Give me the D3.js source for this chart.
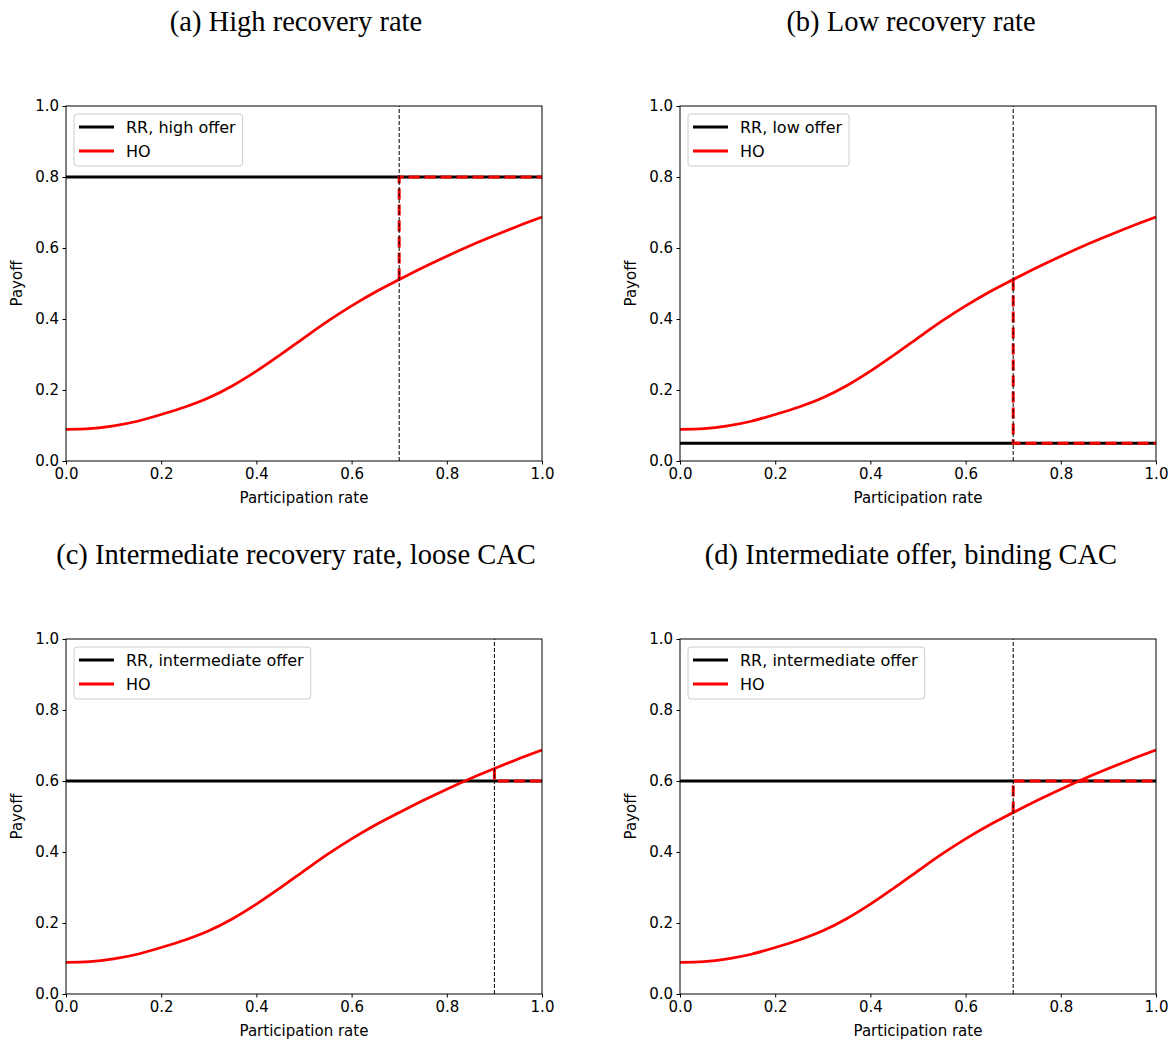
<!DOCTYPE html>
<html>
<head>
    <title>Payoff vs participation rate</title>
    <script src="https://d3js.org/d3.v7.min.js"></script>
    <style>
        body { margin: 0; background: #fff; }
        svg { display: block; }
        .tick text { font-family: "DejaVu Sans", sans-serif; font-size: 15px; fill: #000; }
        .tick line { stroke: #000; }
        .axis-label { font-family: "DejaVu Sans", sans-serif; font-size: 15px; }
        .panel-title { font-family: "Liberation Serif", "DejaVu Serif", serif; font-size: 28.5px; }
        .legend text { font-family: "DejaVu Sans", sans-serif; font-size: 16px; }
        .ho { fill: none; stroke: #ff0000; stroke-width: 2.8; }
        .ho-path { fill: none; stroke: #ff0000; stroke-width: 3; stroke-dasharray: 11,5; }
        .rr { fill: none; stroke: #000; stroke-width: 3; }
        .cutoff { fill: none; stroke: #000; stroke-width: 1; stroke-dasharray: 4,2; }
    </style>
</head>
<body>
    <svg width="1172" height="1041"></svg>
    <script>
        // participation rate grid and HO payoff
        var participation = [0, 0.05, 0.1, 0.15, 0.2, 0.25, 0.3, 0.35, 0.4, 0.45, 0.5,
                             0.55, 0.6, 0.65, 0.7, 0.75, 0.8, 0.85, 0.9, 0.95, 1.0];
        var hoPayoff = [0.089, 0.091, 0.099, 0.112, 0.131, 0.152, 0.178, 0.212, 0.253, 0.299, 0.347,
                        0.394, 0.437, 0.476, 0.511, 0.545, 0.577, 0.607, 0.635, 0.662, 0.687];

        // one entry per panel
        var titles = ["(a) High recovery rate", "(b) Low recovery rate",
                      "(c) Intermediate recovery rate, loose CAC", "(d) Intermediate offer, binding CAC"];
        var rrLabels = ["RR, high offer", "RR, low offer", "RR, intermediate offer", "RR, intermediate offer"];
        var rrValues = [0.8, 0.05, 0.6, 0.6];
        var cutoffs = [0.7, 0.7, 0.9, 0.7];

        var xTicks = [0, 0.2, 0.4, 0.6, 0.8, 1.0];
        var yTicks = [0, 0.2, 0.4, 0.6, 0.8, 1.0];

        var svg = d3.select("svg");
        var width = 476, height = 355;
        var origins = [[66, 106], [680, 106], [66, 639], [680, 639]];
        var titleCenters = [296, 911, 296, 911];
        var titleY = [31, 31, 564, 564];

        var x = d3.scaleLinear().domain([0, 1]).range([0, width]);
        var y = d3.scaleLinear().domain([0, 1]).range([height, 0]);

        var hoData = participation.map(function(p, i) { return [p, hoPayoff[i]]; });
        var line = d3.line()
            .x(function(d) { return x(d[0]); })
            .y(function(d) { return y(d[1]); });

        function hoAt(p) {
            return hoPayoff[participation.indexOf(p)];
        }

        titles.forEach(function(title, k) {
            // subfigure caption
            svg.append("text")
                .attr("class", "panel-title")
                .attr("x", titleCenters[k])
                .attr("y", titleY[k])
                .attr("text-anchor", "middle")
                .text(title);

            var g = svg.append("g")
                .attr("transform", "translate(" + origins[k][0] + "," + origins[k][1] + ")");

            var clip = g.append("clipPath").attr("id", "clip" + k);
            clip.append("rect").attr("width", width).attr("height", height);
            var plot = g.append("g").attr("clip-path", "url(#clip" + k + ")");

            // RR line
            plot.append("path")
                .datum([[0, rrValues[k]], [1, rrValues[k]]])
                .attr("class", "rr")
                .attr("d", line.curve(d3.curveLinear));

            // HO line
            plot.append("path")
                .datum(hoData)
                .attr("class", "ho")
                .attr("d", line.curve(d3.curveCatmullRom.alpha(0.5)));

            // payoff actually obtained past the cutoff
            var c = cutoffs[k];
            plot.append("path")
                .datum([[c, hoAt(c)], [c, rrValues[k]], [1, rrValues[k]]])
                .attr("class", "ho-path")
                .attr("d", line.curve(d3.curveLinear));

            // cutoff
            plot.append("path")
                .datum([[c, 0], [c, 1]])
                .attr("class", "cutoff")
                .attr("d", line.curve(d3.curveLinear));

            // axes
            g.append("g")
                .attr("transform", "translate(0," + height + ")")
                .call(d3.axisBottom(x).tickValues(xTicks).tickFormat(d3.format(".1f")).tickSizeOuter(0).tickSize(3.5).tickPadding(3.5))
                .call(function(a) { a.select(".domain").remove(); });
            g.append("g")
                .call(d3.axisLeft(y).tickValues(yTicks).tickFormat(d3.format(".1f")).tickSizeOuter(0).tickSize(3.5).tickPadding(3.5))
                .call(function(a) { a.select(".domain").remove(); });

            // frame
            g.append("rect")
                .attr("width", width).attr("height", height)
                .attr("fill", "none").attr("stroke", "#000").attr("stroke-width", 1);

            g.append("text")
                .attr("class", "axis-label")
                .attr("x", width / 2)
                .attr("y", height + 42)
                .attr("text-anchor", "middle")
                .text("Participation rate");
            g.append("text")
                .attr("class", "axis-label")
                .attr("transform", "translate(-44," + (height / 2) + ") rotate(-90)")
                .attr("text-anchor", "middle")
                .text("Payoff");

            // legend
            var lg = g.append("g").attr("class", "legend").attr("transform", "translate(8,8)");
            var box = lg.append("rect")
                .attr("rx", 3).attr("ry", 3)
                .attr("fill", "#fff").attr("fill-opacity", 0.8)
                .attr("stroke", "#cccccc").attr("stroke-width", 1);
            var items = [[rrLabels[k], "#000", 3], ["HO", "#ff0000", 2.8]];
            items.forEach(function(it, j) {
                var yy = 13 + j * 24;
                lg.append("line")
                    .attr("x1", 5).attr("x2", 40).attr("y1", yy).attr("y2", yy)
                    .attr("stroke", it[1]).attr("stroke-width", it[2]);
                lg.append("text")
                    .attr("x", 52).attr("y", yy).attr("dy", "0.35em")
                    .text(it[0]);
            });
            var tw = d3.max(lg.selectAll("text").nodes(), function(n) { return n.getComputedTextLength(); });
            box.attr("width", 52 + tw + 7).attr("height", 52);
        });
    </script>
</body>
</html>
